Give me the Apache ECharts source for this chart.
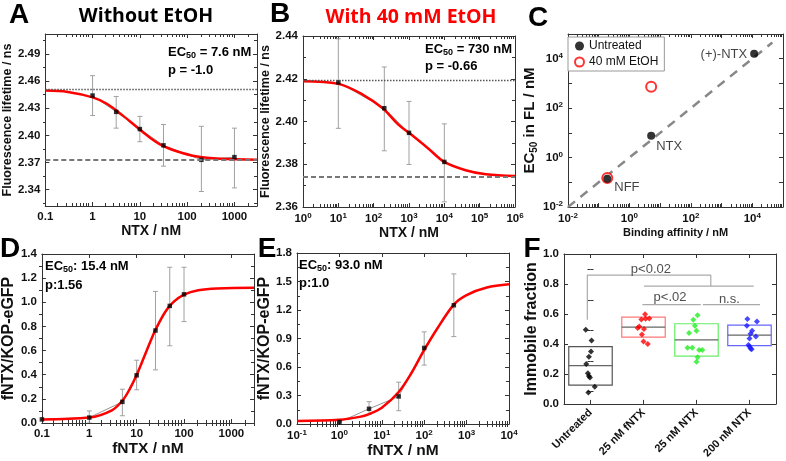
<!DOCTYPE html>
<html>
<head>
<meta charset="utf-8">
<script src="https://cdn.jsdelivr.net/npm/echarts@6.0.0/dist/echarts.min.js"></script>
<style>
html, body { margin: 0; padding: 0; background: #fff; }
#main { width: 786px; height: 461px; }
</style>
</head>
<body>
<div id="main"></div>
<script>
// ---------- A: without EtOH ----------
let aConc = [1, 3.16, 10, 31.6, 200, 1000];
let aLife = [2.444, 2.426, 2.407, 2.389, 2.373, 2.376];
let aLow = [2.422, 2.408, 2.393, 2.366, 2.338, 2.342];
let aHigh = [2.466, 2.443, 2.421, 2.412, 2.410, 2.408];
let aFitX = [0.1, 0.3, 1, 2, 4, 8, 15, 30, 60, 150, 500, 3000];
let aFitY = [2.4495, 2.4480, 2.4420, 2.4350, 2.4235, 2.4106, 2.3990, 2.3886, 2.3825, 2.3770, 2.3742, 2.3732];
let aTop = 2.451, aBottom = 2.373;
let aYTicks = [2.34, 2.37, 2.40, 2.43, 2.46, 2.49];
let aYMinor = [2.325, 2.355, 2.385, 2.415, 2.445, 2.475, 2.505];

// ---------- B: with 40 mM EtOH ----------
let bConc = [10, 200, 1000, 10000];
let bLife = [2.4183, 2.4062, 2.3947, 2.3811];
let bLow = [2.3968, 2.3863, 2.3799, 2.3624];
let bHigh = [2.4387, 2.4255, 2.4094, 2.3989];
let bFitX = [1, 10, 50, 180, 500, 1000, 3500, 10000, 40000, 150000, 1000000];
let bFitY = [2.4188, 2.4176, 2.4125, 2.4062, 2.3985, 2.3947, 2.3874, 2.3811, 2.3772, 2.3753, 2.3745];
let bTop = 2.4195, bBottom = 2.3742;
let bYTicks = [2.36, 2.38, 2.40, 2.42, 2.44];
let bYMinor = [2.37, 2.39, 2.41, 2.43];

// ---------- C: EC50 vs binding affinity ----------
let cNames = ['NFF', 'NTX', '(+)-NTX'];
let cAffinity = [0.19, 5.1, 11500];
let cEC50 = [0.14, 7.6, 16000];
let cEtohAffinity = [0.19, 5.1];
let cEtohEC50 = [0.15, 730];
let cDiag = [0.01, 45000];
let cLabels = [0.01, 1, 100, 10000];

// ---------- D: fNTX binding ----------
let dConc = [0.1, 1, 5, 10, 25, 50, 100];
let dRatio = [0.03, 0.045, 0.175, 0.395, 0.766, 0.97, 1.066];
let dLow = [0.03, 0.0, 0.06, 0.275, 0.44, 0.64, 0.84];
let dHigh = [0.03, 0.10, 0.28, 0.52, 1.09, 1.29, 1.29];
let dFitX = [0.1, 1, 3, 5, 7, 10, 15, 20, 25, 40, 60, 100, 200, 500, 3000];
let dFitY = [0.03, 0.045, 0.105, 0.185, 0.275, 0.397, 0.565, 0.685, 0.772, 0.92, 1.003, 1.064, 1.1, 1.115, 1.12];
let dYTicks = [0, 0.2, 0.4, 0.6, 0.8, 1.0, 1.2, 1.4];
let dYMinor = [0.1, 0.3, 0.5, 0.7, 0.9, 1.1, 1.3];

// ---------- E: fNTX binding, EtOH ----------
let eConc = [1, 5, 25, 100, 500];
let eRatio = [0.02, 0.16, 0.29, 0.80, 1.25];
let eLow = [0.02, 0.10, 0.14, 0.62, 0.92];
let eHigh = [0.02, 0.235, 0.44, 0.97, 1.58];
let eFitX = [0.1, 1, 3, 5, 10, 25, 50, 93, 200, 500, 1000, 3000, 10000];
let eFitY = [0.032, 0.045, 0.075, 0.104, 0.171, 0.337, 0.537, 0.755, 1.0, 1.257, 1.357, 1.436, 1.47];
let eYTicks = [0, 0.3, 0.6, 0.9, 1.2, 1.5, 1.8];
let eYMinor = [0.15, 0.45, 0.75, 1.05, 1.35, 1.65];

// ---------- F: immobile fraction ----------
let fCats = ['Untreated', '25 nM fNTX', '25 nM NTX', '200 nM NTX'];
let fUntreated = [0.505, 0.434, 0.362, 0.329, 0.281, 0.22, 0.202, 0.193, 0.132, 0.095];
let fUntreatedDx = [-0.09, 0.02, 0.01, -0.03, -0.08, -0.05, -0.03, -0.01, 0.08, -0.04];
let fFntx25 = [0.607, 0.572, 0.577, 0.579, 0.526, 0.516, 0.509, 0.474, 0.428, 0.412];
let fFntx25Dx = [0.03, -0.04, 0.04, 0.11, -0.08, -0.11, 0.01, -0.03, 0, 0.08];
let fNtx25 = [0.570, 0.599, 0.531, 0.498, 0.483, 0.388, 0.388, 0.373, 0.373, 0.325, 0.296];
let fNtx25Dx = [-0.06, 0.02, -0.03, 0, -0.14, -0.17, -0.08, 0.05, 0.11, 0.02, 0];
let fNtx200 = [0.575, 0.559, 0.531, 0.498, 0.478, 0.461, 0.447, 0.406, 0.395, 0.382, 0.377];
let fNtx200Dx = [-0.04, 0.14, -0.05, 0.05, 0.02, 0.12, 0, -0.02, 0, 0.02, 0.04];
let fQ1 = [0.143, 0.457, 0.333, 0.401];
let fMedian = [0.27, 0.522, 0.439, 0.47];
let fQ3 = [0.395, 0.588, 0.544, 0.535];
let fBrackets = [
    [[-0.06, 0.57], [-0.06, 0.862], [2.27, 0.862], [2.27, 0.79]],
    [[1.01, 0.79], [3.08, 0.79]],
    [[0.98, 0.669], [2.08, 0.669]],
    [[2.12, 0.669], [3.2, 0.669]]
];
let fNotes = ['p<0.02', 'p<.02', 'n.s.'];
let fNoteX = [1.14, 1.5, 2.62];
let fNoteY = [0.90, 0.713, 0.70];
let fYTicks = [0, 0.2, 0.4, 0.6, 0.8, 1.0];
let fYMinor = [0.1, 0.3, 0.5, 0.7, 0.9];

const FONT = 'Liberation Sans';
const AXC = '#333';
const fDotColors = ['#000000', '#ff0000', '#22ee22', '#1a1aff'];
const fBoxColors = ['#555555', '#ff7777', '#66ee66', '#6666ff'];

let grids = [], xAxes = [], yAxes = [], series = [], graphics = [];

function pairs(xs, ys) {
    return xs.map(function (x, i) { return [x, ys[i]]; });
}
function decades(lo, hi) {
    let v = [];
    for (let e = lo; e <= hi; e++) v.push(Math.pow(10, e));
    return v;
}
function minorLog(lo, hi, max) {
    let v = [];
    for (let e = lo; e < hi; e++) {
        for (let k = 2; k <= 9; k++) {
            let t = k * Math.pow(10, e);
            if (t <= max) v.push(t);
        }
    }
    return v;
}
// 10^n labels
function supFmt(v) {
    return '{b|10}{s|' + Math.round(Math.log10(v)) + '}';
}
const supRich = {
    b: {fontSize: 11.5, fontWeight: 'bold', fontFamily: FONT, color: '#111', lineHeight: 14},
    s: {fontSize: 8, fontWeight: 'bold', fontFamily: FONT, color: '#111', lineHeight: 9, verticalAlign: 'top'}
};

function mkAxis(c, grid, pos, mirror) {
    let a = {
        gridIndex: grid, position: pos, type: c.type,
        axisLine: {show: true, onZero: false, lineStyle: {color: AXC, width: 1}},
        axisTick: {show: true, inside: true, length: 4, lineStyle: {color: AXC, width: 1}},
        axisLabel: {
            show: !mirror, color: '#111', fontFamily: FONT, fontWeight: 'bold',
            fontSize: c.labelSize || 11.5, margin: c.margin || 5
        },
        splitLine: {show: false},
        silent: true
    };
    if (c.type === 'log') a.logBase = 10;
    if (c.type === 'category') {
        a.data = c.data;
        a.axisTick.alignWithLabel = true;
        a.axisLabel.interval = 0;
        a.axisLabel.rotate = c.rotate || 0;
    } else {
        a.min = c.min;
        a.max = c.max;
        a.axisTick.customValues = c.ticks;
        a.axisLabel.customValues = c.labels || c.ticks;
    }
    if (c.fmt) a.axisLabel.formatter = c.fmt;
    if (c.rich) a.axisLabel.rich = c.rich;
    if (!mirror && c.name) {
        a.name = c.name;
        a.nameLocation = 'middle';
        a.nameGap = c.gap;
        a.nameTextStyle = {fontFamily: FONT, fontWeight: 'bold', fontSize: c.nameSize, color: '#111'};
        if (c.nameRich) a.nameTextStyle.rich = c.nameRich;
    }
    return a;
}
// second grid on the same rect: minor ticks (and hidden helper axes)
function mkOverlay(c, grid, pos) {
    let a = {
        gridIndex: grid, position: pos, type: c.oType || c.type, min: c.oMin != null ? c.oMin : c.min,
        max: c.oMax != null ? c.oMax : c.max,
        axisLine: {show: false},
        axisLabel: {show: false},
        splitLine: {show: false},
        axisTick: {show: !!c.minor, inside: true, length: 3, lineStyle: {color: AXC, width: 1}},
        silent: true
    };
    if (a.type === 'log') a.logBase = 10;
    if (c.minor) a.axisTick.customValues = c.minor;
    return a;
}
function panel(rect, xc, yc) {
    let g = grids.length;
    let r = {left: rect[0], top: rect[1], width: rect[2], height: rect[3], show: false};
    grids.push(r, Object.assign({}, r));
    let ix = xAxes.length, iy = yAxes.length;
    xAxes.push(mkAxis(xc, g, 'bottom', false), mkAxis(xc, g, 'top', true));
    yAxes.push(mkAxis(yc, g, 'left', false), mkAxis(yc, g, 'right', true));
    xAxes.push(mkOverlay(xc, g + 1, 'bottom'), mkOverlay(xc, g + 1, 'top'));
    yAxes.push(mkOverlay(yc, g + 1, 'left'), mkOverlay(yc, g + 1, 'right'));
    return {x: ix, y: iy, ox: ix + 2, oy: iy + 2};
}

function errBar(params, api) {
    let top = api.coord([api.value(0), api.value(2)]);
    let bot = api.coord([api.value(0), api.value(1)]);
    let w = 2.5;
    let st = {stroke: '#a0a0a0', lineWidth: 1};
    return {
        type: 'group', children: [
            {type: 'line', shape: {x1: top[0], y1: top[1], x2: bot[0], y2: bot[1]}, style: st},
            {type: 'line', shape: {x1: top[0] - w, y1: top[1], x2: top[0] + w, y2: top[1]}, style: st},
            {type: 'line', shape: {x1: bot[0] - w, y1: bot[1], x2: bot[0] + w, y2: bot[1]}, style: st}
        ]
    };
}

// error bars + gray data line + red fit + black squares
function curvePanel(ax, conc, val, low, high, fitX, fitY, refLines) {
    series.push({
        type: 'custom', xAxisIndex: ax.x, yAxisIndex: ax.y, clip: true, z: 1,
        encode: {x: 0, y: [1, 2]},
        data: conc.map(function (c, i) { return [c, low[i], high[i]]; }),
        renderItem: errBar
    });
    let dataLine = {
        type: 'line', xAxisIndex: ax.x, yAxisIndex: ax.y, z: 2, symbol: 'none',
        data: pairs(conc, val), lineStyle: {color: '#777', width: 0.8}
    };
    if (refLines) {
        dataLine.markLine = {
            silent: true, symbol: 'none', label: {show: false}, animation: false, precision: 5,
            data: [
                {yAxis: refLines[0], lineStyle: {type: [1.5, 1.5], color: '#555', width: 1.3}},
                {yAxis: refLines[1], lineStyle: {type: [5, 3], color: '#777', width: 1.8}}
            ]
        };
    }
    series.push(dataLine);
    series.push({
        type: 'line', xAxisIndex: ax.x, yAxisIndex: ax.y, z: 3, symbol: 'none',
        smooth: 0.35, data: pairs(fitX, fitY), lineStyle: {color: '#ff0000', width: 2.5}
    });
    series.push({
        type: 'scatter', xAxisIndex: ax.x, yAxisIndex: ax.y, z: 4, symbol: 'rect', symbolSize: 4.5,
        data: pairs(conc, val), itemStyle: {color: '#000'}
    });
}

// ---------- panels ----------
let axA = panel([43, 34, 214, 172],
    {type: 'log', min: 0.1, max: 3000, ticks: decades(-1, 3), minor: minorLog(-1, 4, 3000),
        fmt: function (v) { return String(v); }, name: 'NTX / nM', gap: 15, nameSize: 14},
    {type: 'value', min: 2.322, max: 2.512, ticks: aYTicks, minor: aYMinor,
        fmt: function (v) { return v.toFixed(2); }, name: 'Fluorescence lifetime / ns', gap: 29, nameSize: 12.5});
curvePanel(axA, aConc, aLife, aLow, aHigh, aFitX, aFitY, [aTop, aBottom]);

let axB = panel([303, 36, 212, 171],
    {type: 'log', min: 1, max: 1e6, ticks: decades(0, 6), minor: minorLog(0, 6, 1e6),
        fmt: supFmt, rich: supRich, name: 'NTX / nM', gap: 13, nameSize: 14},
    {type: 'value', min: 2.36, max: 2.44, ticks: bYTicks, minor: bYMinor,
        fmt: function (v) { return v.toFixed(2); }, name: 'Fluorescence lifetime / ns', gap: 29, nameSize: 12.5});
curvePanel(axB, bConc, bLife, bLow, bHigh, bFitX, bFitY, [bTop, bBottom]);

let axC = panel([568, 34, 215, 173],
    {type: 'log', min: 0.01, max: 1e5, ticks: decades(-2, 5), labels: cLabels, minor: minorLog(-2, 5, 1e5),
        fmt: supFmt, rich: supRich, name: 'Binding affinity / nM', gap: 20, nameSize: 11},
    {type: 'log', min: 0.01, max: 1e5, ticks: decades(-2, 5), labels: cLabels,
        fmt: supFmt, rich: supRich, name: '{n|EC}{s|50}{n| in FL / nM}', gap: 25, nameSize: 15,
        nameRich: {
            n: {fontSize: 15, fontWeight: 'bold', fontFamily: FONT, color: '#111', lineHeight: 18},
            s: {fontSize: 10, fontWeight: 'bold', fontFamily: FONT, color: '#111', lineHeight: 10, verticalAlign: 'bottom'}
        }});
series.push({
    type: 'line', xAxisIndex: axC.x, yAxisIndex: axC.y, z: 1, symbol: 'none',
    data: pairs(cDiag, cDiag), lineStyle: {color: '#888', width: 2.5, type: [9, 7]}
});
series.push({
    name: '40 mM EtOH', type: 'scatter', xAxisIndex: axC.x, yAxisIndex: axC.y, z: 2,
    symbol: 'circle', symbolSize: 10, data: pairs(cEtohAffinity, cEtohEC50),
    itemStyle: {color: '#fff', borderColor: '#ff0000', borderWidth: 2}
});
let cLabelPos = [{position: 'right', offset: [-1, 9]}, {position: 'right', offset: [-3, 11]}, {position: 'left', offset: [1, 1]}];
series.push({
    name: 'Untreated', type: 'scatter', xAxisIndex: axC.x, yAxisIndex: axC.y, z: 3,
    symbol: 'circle', symbolSize: 8, itemStyle: {color: '#000'},
    data: cNames.map(function (n, i) {
        return {
            name: n, value: [cAffinity[i], cEC50[i]],
            label: Object.assign({show: true, formatter: '{b}', fontSize: 13, color: '#111', fontFamily: FONT, distance: 4}, cLabelPos[i])
        };
    })
});

let axD = panel([39, 254, 215, 169],
    {type: 'log', min: 0.1, max: 3000, ticks: decades(-1, 3), minor: minorLog(-1, 4, 3000),
        fmt: function (v) { return String(v); }, name: 'fNTX / nM', gap: 18, nameSize: 15.5},
    {type: 'value', min: 0, max: 1.4, ticks: dYTicks, minor: dYMinor,
        fmt: function (v) { return v.toFixed(1); }, name: 'fNTX/KOP-eGFP', gap: 19, nameSize: 16});
curvePanel(axD, dConc, dRatio, dLow, dHigh, dFitX, dFitY, null);

let axE = panel([297, 253, 212, 171],
    {type: 'log', min: 0.1, max: 1e4, ticks: decades(-1, 4), minor: minorLog(-1, 4, 1e4),
        fmt: supFmt, rich: supRich, name: 'fNTX / nM', gap: 17, nameSize: 15.5},
    {type: 'value', min: 0, max: 1.8, ticks: eYTicks, minor: eYMinor,
        fmt: function (v) { return v.toFixed(1); }, name: 'fNTX/KOP-eGFP', gap: 22, nameSize: 16});
curvePanel(axE, eConc, eRatio, eLow, eHigh, eFitX, eFitY, null);

let axF = panel([564, 254, 212, 153],
    {type: 'category', data: fCats, rotate: 45, labelSize: 11, margin: 7,
        oType: 'value', oMin: -0.5, oMax: 3.5},
    {type: 'value', min: 0, max: 1, ticks: fYTicks, minor: fYMinor,
        fmt: function (v) { return v.toFixed(1); }, name: 'Immobile fraction', gap: 21, nameSize: 16});
// boxes
series.push({
    type: 'custom', xAxisIndex: axF.ox, yAxisIndex: axF.oy, z: 1,
    encode: {x: 0, y: [1, 2, 3]},
    data: fQ1.map(function (q, i) { return [i, q, fMedian[i], fQ3[i]]; }),
    renderItem: function (params, api) {
        let i = api.value(0), hw = 0.41;
        let tl = api.coord([i - hw, api.value(3)]);
        let br = api.coord([i + hw, api.value(1)]);
        let m1 = api.coord([i - hw, api.value(2)]);
        let m2 = api.coord([i + hw, api.value(2)]);
        return {
            type: 'group', children: [
                {type: 'rect', shape: {x: tl[0], y: tl[1], width: br[0] - tl[0], height: br[1] - tl[1]},
                    style: {fill: 'none', stroke: fBoxColors[i], lineWidth: 1.2}},
                {type: 'line', shape: {x1: m1[0], y1: m1[1], x2: m2[0], y2: m2[1]},
                    style: {stroke: '#666', lineWidth: 1.2}}
            ]
        };
    }
});
[[fUntreated, fUntreatedDx], [fFntx25, fFntx25Dx], [fNtx25, fNtx25Dx], [fNtx200, fNtx200Dx]].forEach(function (grp, i) {
    series.push({
        type: 'scatter', xAxisIndex: axF.ox, yAxisIndex: axF.oy, z: 2,
        symbol: 'diamond', symbolSize: 6, itemStyle: {color: fDotColors[i]},
        data: grp[0].map(function (v, k) { return [i + grp[1][k], v]; })
    });
});
fBrackets.forEach(function (b) {
    series.push({
        type: 'line', xAxisIndex: axF.ox, yAxisIndex: axF.oy, z: 1, symbol: 'none',
        data: b, lineStyle: {color: '#aaa', width: 1.2}
    });
});
series.push({
    type: 'scatter', xAxisIndex: axF.ox, yAxisIndex: axF.oy, z: 3, symbolSize: 0,
    data: fNotes.map(function (t, i) { return {name: t, value: [fNoteX[i], fNoteY[i]]}; }),
    label: {show: true, position: 'inside', formatter: '{b}', fontSize: 13, color: '#222', fontFamily: FONT}
});

// ---------- texts ----------
function txt(x, y, text, size, extra) {
    graphics.push({
        type: 'text', x: x, y: y, silent: true,
        style: Object.assign({
            text: text, fontSize: size, fontWeight: 'bold', fontFamily: FONT, fill: '#000',
            align: 'left', verticalAlign: 'middle'
        }, extra || {})
    });
}
const ecRich = {
    n: {fontSize: 13, fontWeight: 'bold', fontFamily: FONT, fill: '#000', lineHeight: 16},
    s: {fontSize: 9, fontWeight: 'bold', fontFamily: FONT, fill: '#000', lineHeight: 9, verticalAlign: 'bottom'}
};
['A', 'B', 'C', 'D', 'E', 'F'].forEach(function (l, i) {
    let pos = [[19, 15], [280, 14], [538, 18], [10, 249], [267, 249], [532, 249]][i];
    txt(pos[0], pos[1], l, 28, {align: 'center'});
});
txt(146, 16, 'Without EtOH', 19.5, {align: 'center', fontFamily: 'Open Sans'});
txt(411, 17, 'With 40 mM EtOH', 19.5, {align: 'center', fontFamily: 'Open Sans', fill: '#ff0000'});
txt(168, 52, '{n|EC}{s|50}{n| = 7.6 nM}', 13, {rich: ecRich});
txt(168, 70, 'p = -1.0', 13);
txt(425, 49, '{n|EC}{s|50}{n| = 730 nM}', 13, {rich: ecRich});
txt(425, 66, 'p = -0.66', 13);
txt(45, 266, '{n|EC}{s|50}{n|: 15.4 nM}', 13, {rich: ecRich});
txt(45, 285, 'p:1.56', 13);
txt(299, 265, '{n|EC}{s|50}{n|: 93.0 nM}', 13, {rich: ecRich});
txt(299, 283, 'p:1.0', 13);

let chart = echarts.init(document.getElementById('main'));
chart.setOption({
    animation: false,
    backgroundColor: '#fff',
    textStyle: {fontFamily: FONT},
    grid: grids,
    xAxis: xAxes,
    yAxis: yAxes,
    legend: [{
        data: ['Untreated', '40 mM EtOH'], left: 568, top: 37, orient: 'vertical',
        itemWidth: 9, itemHeight: 9, itemGap: 4, padding: [3, 6, 3, 6],
        borderColor: '#999', borderWidth: 1, backgroundColor: '#fff', selectedMode: false,
        textStyle: {fontSize: 12, fontFamily: FONT, color: '#111'}
    }],
    series: series,
    graphic: graphics
});
</script>
</body>
</html>
